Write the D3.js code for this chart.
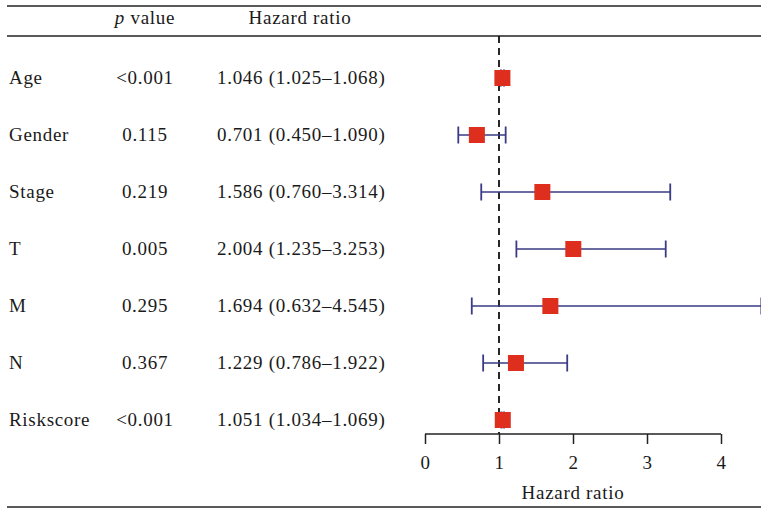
<!DOCTYPE html>
<html>
<head>
<meta charset="utf-8">
<script src="https://cdn.jsdelivr.net/npm/d3@7"></script>
<style>
  html, body { margin: 0; padding: 0; background: #fff; }
  svg { display: block; }
  text { font-family: "Liberation Serif", "Times New Roman", serif; fill: #1a1a1a; letter-spacing: 0.7px; }
</style>
</head>
<body>
<svg id="chart" width="761" height="508"></svg>
<script>
// Cox regression results per variable
const variables = ["Age", "Gender", "Stage", "T", "M", "N", "Riskscore"];
const pValues   = ["<0.001", "0.115", "0.219", "0.005", "0.295", "0.367", "<0.001"];
const hazard    = [1.046, 0.701, 1.586, 2.004, 1.694, 1.229, 1.051];
const lower     = [1.025, 0.450, 0.760, 1.235, 0.632, 0.786, 1.034];
const upper     = [1.068, 1.090, 3.314, 3.253, 4.545, 1.922, 1.069];
const axisTicks = [0, 1, 2, 3, 4];

const rows = variables.map((v, i) => ({
  name: v, p: pValues[i], hr: hazard[i], lo: lower[i], hi: upper[i]
}));
const fmt = d3.format(".3f");

const W = 761, H = 508;
const svg = d3.select("#chart");
const fontSize = 19;

const x = d3.scaleLinear().domain([0, 4]).range([425, 721]);
const y = d3.scalePoint().domain(variables).range([78, 420]);
const axisY = 434;

// table rules
const rule = (yy) => svg.append("line")
  .attr("x1", 7).attr("x2", W).attr("y1", yy).attr("y2", yy)
  .attr("stroke", "#222").attr("stroke-width", 1.5);
rule(6); rule(36); rule(507);

// column headers
const head = svg.append("text").attr("x", 145).attr("y", 24)
  .attr("text-anchor", "middle").style("font-size", fontSize + "px");
head.append("tspan").style("font-style", "italic").text("p");
head.append("tspan").text(" value");
svg.append("text").attr("x", 300).attr("y", 24)
  .attr("text-anchor", "middle").style("font-size", fontSize + "px")
  .text("Hazard ratio");

// table body
const tr = svg.append("g").selectAll("g").data(rows).join("g")
  .attr("transform", d => `translate(0,${y(d.name) + 6})`)
  .style("font-size", fontSize + "px");
tr.append("text").attr("x", 9).text(d => d.name);
tr.append("text").attr("x", 145).attr("text-anchor", "middle").text(d => d.p);
tr.append("text").attr("x", 217)
  .text(d => `${fmt(d.hr)} (${fmt(d.lo)}\u2013${fmt(d.hi)})`);

// reference line at HR = 1
svg.append("line")
  .attr("x1", x(1)).attr("x2", x(1)).attr("y1", 36).attr("y2", axisY)
  .attr("stroke", "#111").attr("stroke-width", 1.8)
  .attr("stroke-dasharray", "7,5");

// confidence intervals
const ciColor = "#3a3a86";
const ci = svg.append("g").selectAll("g").data(rows).join("g");
ci.append("line")
  .attr("x1", d => x(d.lo)).attr("x2", d => x(d.hi))
  .attr("y1", d => y(d.name)).attr("y2", d => y(d.name))
  .attr("stroke", ciColor).attr("stroke-width", 1.6);
ci.append("line")
  .attr("x1", d => x(d.lo)).attr("x2", d => x(d.lo))
  .attr("y1", d => y(d.name) - 8.5).attr("y2", d => y(d.name) + 8.5)
  .attr("stroke", ciColor).attr("stroke-width", 1.8);
ci.append("line")
  .attr("x1", d => x(d.hi)).attr("x2", d => x(d.hi))
  .attr("y1", d => y(d.name) - 8.5).attr("y2", d => y(d.name) + 8.5)
  .attr("stroke", ciColor).attr("stroke-width", 1.8);

// point estimates
const sq = 16;
svg.append("g").selectAll("rect").data(rows).join("rect")
  .attr("x", d => x(d.hr) - sq / 2).attr("y", d => y(d.name) - sq / 2)
  .attr("width", sq).attr("height", sq)
  .attr("fill", "#dd2e1e");

// x axis
const ax = svg.append("g").attr("transform", `translate(0,${axisY})`)
  .call(d3.axisBottom(x).tickValues(axisTicks).tickSize(10).tickPadding(12)
    .tickFormat(d3.format("d")));
ax.select(".domain").attr("stroke", "#222").attr("stroke-width", 1.5)
  .attr("d", `M${x(0)},0H${x(4)}`);
ax.selectAll(".tick line").attr("stroke", "#222").attr("stroke-width", 1.5);
ax.selectAll(".tick text")
  .style("font-family", '"Liberation Serif", "Times New Roman", serif')
  .style("font-size", fontSize + "px").attr("fill", "#1a1a1a");

svg.append("text").attr("x", x(2)).attr("y", 499)
  .attr("text-anchor", "middle").style("font-size", fontSize + "px")
  .text("Hazard ratio");
</script>
</body>
</html>
